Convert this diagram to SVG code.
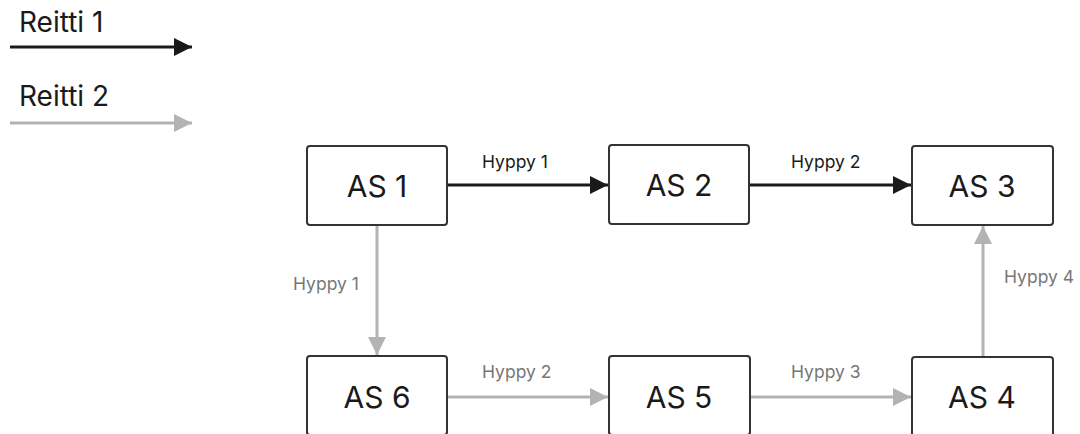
<svg xmlns="http://www.w3.org/2000/svg" width="1080" height="434" viewBox="0 0 1080 434">
<style>
.box{fill:#fff;stroke:#333;stroke-width:2}
.nt{font-family:Inter,"Liberation Sans",sans-serif;font-size:30px;fill:#1a1a1a;text-anchor:middle}
.lbl{font-family:Inter,"Liberation Sans",sans-serif;font-size:17.5px}
.r1{stroke:#1a1a1a;stroke-width:3;fill:none}
.r2{stroke:#b3b3b3;stroke-width:3;fill:none}
.leg{font-family:Inter,"Liberation Sans",sans-serif;font-size:28px;fill:#1a1a1a}
</style>
<defs>
<marker id="a1" markerWidth="6" markerHeight="6" refX="6" refY="3" orient="auto" markerUnits="strokeWidth"><path d="M0,0 L6,3 L0,6 Z" fill="#1a1a1a"/></marker>
<marker id="a2" markerWidth="6" markerHeight="6" refX="6" refY="3" orient="auto" markerUnits="strokeWidth"><path d="M0,0 L6,3 L0,6 Z" fill="#b3b3b3"/></marker>
</defs>
<rect width="1080" height="434" fill="#fff"/>
<g id="legend">
<text class="leg" x="19" y="32">Reitti 1</text>
<line class="r1" x1="10" y1="47" x2="192" y2="47" marker-end="url(#a1)"/>
<text class="leg" x="19" y="106">Reitti 2</text>
<line class="r2" x1="10" y1="123" x2="192" y2="123" marker-end="url(#a2)"/>
</g>
<g id="connectors">
<line class="r1" x1="447" y1="185" x2="608" y2="185" marker-end="url(#a1)"/>
<text class="lbl" x="482" y="168" fill="#1a1a1a">Hyppy 1</text>
<line class="r1" x1="749" y1="185" x2="911" y2="185" marker-end="url(#a1)"/>
<text class="lbl" x="791" y="168" fill="#1a1a1a">Hyppy 2</text>
<line class="r2" x1="377" y1="225" x2="377" y2="355" marker-end="url(#a2)"/>
<text class="lbl" x="293" y="290" fill="#777">Hyppy 1</text>
<line class="r2" x1="447" y1="397" x2="608" y2="397" marker-end="url(#a2)"/>
<text class="lbl" x="482" y="378" fill="#777">Hyppy 2</text>
<line class="r2" x1="750" y1="397" x2="911" y2="397" marker-end="url(#a2)"/>
<text class="lbl" x="791" y="378" fill="#777">Hyppy 3</text>
<line class="r2" x1="983" y1="357" x2="983" y2="226" marker-end="url(#a2)"/>
<text class="lbl" x="1004" y="283" fill="#777">Hyppy 4</text>
</g>
<g id="as1"><rect class="box" x="307" y="146" width="140" height="79" rx="3"/><text class="nt" x="377" y="197">AS 1</text></g>
<g id="as2"><rect class="box" x="609" y="145" width="140" height="79" rx="3"/><text class="nt" x="679" y="196">AS 2</text></g>
<g id="as3"><rect class="box" x="912" y="146" width="141" height="79" rx="3"/><text class="nt" x="982" y="197">AS 3</text></g>
<g id="as6"><rect class="box" x="307" y="356" width="140" height="79" rx="3"/><text class="nt" x="377" y="408">AS 6</text></g>
<g id="as5"><rect class="box" x="609" y="356" width="141" height="79" rx="3"/><text class="nt" x="679" y="408">AS 5</text></g>
<g id="as4"><rect class="box" x="912" y="357" width="141" height="79" rx="3"/><text class="nt" x="982" y="408">AS 4</text></g>
</svg>
